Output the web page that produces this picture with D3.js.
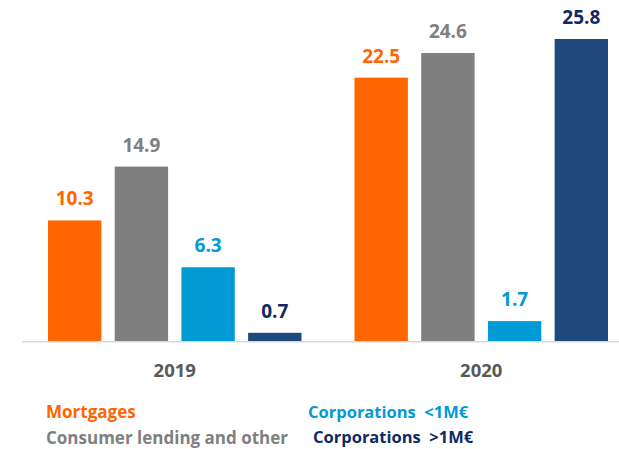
<!DOCTYPE html>
<html lang="en">
<head>
  <meta charset="UTF-8" />
  <title>Loans by segment</title>
  <script src="https://d3js.org/d3.v7.min.js"></script>
  <style>
    body {
      margin: 0;
      background: #fff;
      font-family: "Open Sans", sans-serif;
    }
    svg {
      display: block;
    }
    text {
      font-weight: bold;
    }
    text.value {
      font-size: 19px;
    }
    text.year {
      font-size: 18.5px;
      fill: #595959;
    }
    text.legend {
      font-size: 17px;
      white-space: pre;
    }
    text.legend.right {
      font-size: 16.5px;
    }
  </style>
</head>
<body>

<svg width="619" height="449"></svg>

<script>
  const years = ["2019", "2020"];
  const segments = ["Mortgages", "Consumer lending and other", "Corporations  <1M€", "Corporations  >1M€"];
  const barColors = ["#ff6600", "#7f7f7f", "#009ad5", "#1f497d"];
  const textColors = ["#ff6600", "#7f7f7f", "#009ad5", "#0e2a66"];
  const values2019 = [10.3, 14.9, 6.3, 0.7];
  const values2020 = [22.5, 24.6, 1.7, 25.8];

  const data = [];
  years.forEach((yr, i) => {
    const vals = i === 0 ? values2019 : values2020;
    segments.forEach((s, j) => data.push({ year: yr, seg: s, idx: j, value: vals[j] }));
  });

  const svg = d3.select("svg");

  const x0 = d3.scaleBand()
    .domain(years)
    .range([48, 608])
    .paddingInner(0.173)
    .paddingOuter(0);

  const x1 = d3.scaleBand()
    .domain(segments)
    .range([0, x0.bandwidth()])
    .paddingInner(0.2)
    .paddingOuter(0);

  const y = d3.scaleLinear()
    .domain([0, 25.8])
    .range([341, 39]);

  // bars
  svg.selectAll("rect.bar")
    .data(data)
    .enter().append("rect")
    .attr("class", "bar")
    .attr("x", d => x0(d.year) + x1(d.seg))
    .attr("y", d => y(d.value))
    .attr("width", x1.bandwidth())
    .attr("height", d => y(0) - y(d.value))
    .attr("fill", d => barColors[d.idx]);

  // value labels
  svg.selectAll("text.value")
    .data(data)
    .enter().append("text")
    .attr("class", "value")
    .attr("x", d => x0(d.year) + x1(d.seg) + x1.bandwidth() / 2)
    .attr("y", d => y(d.value) - 15)
    .attr("text-anchor", "middle")
    .attr("fill", d => textColors[d.idx])
    .text(d => d.value.toFixed(1));

  // baseline
  svg.append("line")
    .attr("x1", 22)
    .attr("x2", 619)
    .attr("y1", y(0) + 0.75)
    .attr("y2", y(0) + 0.75)
    .attr("stroke", "#d9d9d9")
    .attr("stroke-width", 1.5);

  // year labels
  svg.selectAll("text.year")
    .data(years)
    .enter().append("text")
    .attr("class", "year")
    .attr("x", d => x0(d) + x0.bandwidth() / 2)
    .attr("y", 377)
    .attr("text-anchor", "middle")
    .text(d => d);

  // legend, two columns
  const legendPos = [[46, 418], [46, 444], [308, 418], [313, 443]];
  svg.selectAll("text.legend")
    .data(segments)
    .enter().append("text")
    .attr("class", (d, i) => i < 2 ? "legend" : "legend right")
    .attr("x", (d, i) => legendPos[i][0])
    .attr("y", (d, i) => legendPos[i][1])
    .attr("fill", (d, i) => textColors[i])
    .text(d => d);
</script>

</body>
</html>
